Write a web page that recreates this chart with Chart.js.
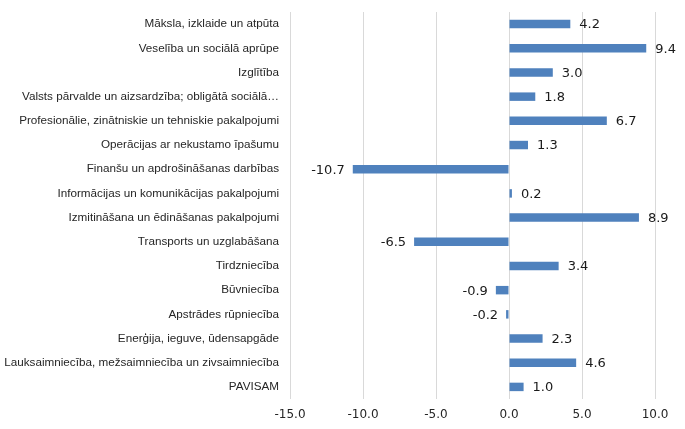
<!DOCTYPE html>
<html>
<head>
<meta charset="utf-8">
<script src="https://cdn.jsdelivr.net/npm/chart.js@4"></script>
<style>
    html, body { margin: 0; padding: 0; background: #ffffff; }
    #wrap { width: 685px; height: 429px; }
</style>
</head>
<body>
<div id="wrap"><canvas id="sectorChart"></canvas></div>
<script>

// ======================================
// Data
// ======================================

const sectorLabels = [
    "Māksla, izklaide un atpūta",
    "Veselība un sociālā aprūpe",
    "Izglītība",
    "Valsts pārvalde un aizsardzība; obligātā sociālā…",
    "Profesionālie, zinātniskie un tehniskie pakalpojumi",
    "Operācijas ar nekustamo īpašumu",
    "Finanšu un apdrošināšanas darbības",
    "Informācijas un komunikācijas pakalpojumi",
    "Izmitināšana un ēdināšanas pakalpojumi",
    "Transports un uzglabāšana",
    "Tirdzniecība",
    "Būvniecība",
    "Apstrādes rūpniecība",
    "Enerģija, ieguve, ūdensapgāde",
    "Lauksaimniecība, mežsaimniecība un zivsaimniecība",
    "PAVISAM"
];

const changeValues = [
    4.2, 9.4, 3.0, 1.8, 6.7, 1.3, -10.7, 0.2,
    8.9, -6.5, 3.4, -0.9, -0.2, 2.3, 4.6, 1.0
];

const xTicks = [-15, -10, -5, 0, 5, 10];

// ======================================
// Value labels plugin
// ======================================

const valueLabels = {

    id: "valueLabels",

    afterDatasetsDraw(chart) {

        const ctx = chart.ctx;
        const meta = chart.getDatasetMeta(0);

        ctx.save();
        ctx.font = "13px 'DejaVu Sans', sans-serif";
        ctx.fillStyle = "#1a1a1a";
        ctx.textBaseline = "middle";

        meta.data.forEach((bar, i) => {

            const v = changeValues[i];

            if (v >= 0) {
                ctx.textAlign = "left";
                ctx.fillText(v.toFixed(1), bar.x + 9, bar.y + 1);
            } else {
                ctx.textAlign = "right";
                ctx.fillText(v.toFixed(1), bar.x - 8, bar.y + 1);
            }

        });

        ctx.restore();
    }
};

// ======================================
// Chart
// ======================================

new Chart(document.getElementById("sectorChart"), {

    type: "bar",

    data: {
        labels: sectorLabels,
        datasets: [{
            data: changeValues,
            backgroundColor: "#4F81BD",
            categoryPercentage: 1.0,
            barPercentage: 0.35
        }]
    },

    options: {
        indexAxis: "y",
        responsive: true,
        maintainAspectRatio: false,
        animation: false,
        layout: {
            padding: { top: 12, right: 30, bottom: 0, left: 0 }
        },
        plugins: {
            legend: { display: false },
            tooltip: { enabled: false }
        },
        scales: {
            x: {
                min: -15,
                max: 10,
                afterBuildTicks(scale) {
                    scale.ticks = xTicks.map(v => ({ value: v }));
                },
                afterFit(scale) {
                    scale.height = 30;
                },
                grid: {
                    color: "#d9d9d9",
                    drawTicks: false
                },
                border: { display: false },
                ticks: {
                    padding: 9,
                    color: "#262626",
                    font: { family: "'DejaVu Sans', sans-serif", size: 12 },
                    callback: v => v.toFixed(1)
                }
            },
            y: {
                afterFit(scale) {
                    scale.width = 290;
                    scale.paddingTop = 0;
                    scale.paddingBottom = 0;
                },
                grid: { display: false },
                border: { display: false },
                ticks: {
                    padding: 3,
                    autoSkip: false,
                    color: "#262626",
                    font: { family: "'Liberation Sans', sans-serif", size: 11.7 }
                }
            }
        }
    },

    plugins: [valueLabels]
});

</script>
</body>
</html>
